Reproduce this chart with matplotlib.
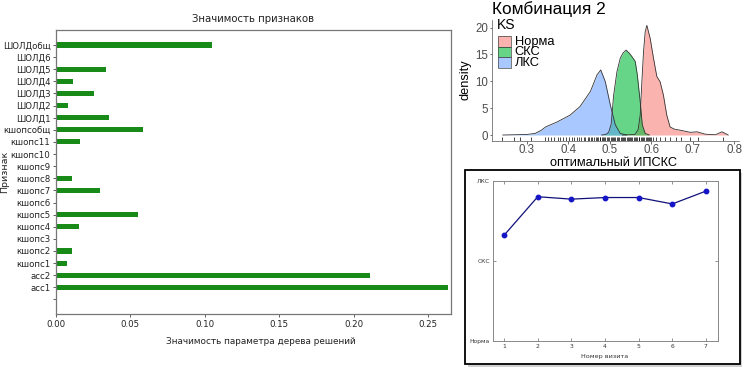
import matplotlib
matplotlib.use('Agg')
import matplotlib.pyplot as plt
from matplotlib.patches import Rectangle
import matplotlib.transforms as mtransforms

# ---------------- data ----------------
features = ['', 'acc1', 'acc2', 'кшопс1', 'кшопс2', 'кшопс3', 'кшопс4', 'кшопс5',
            'кшопс6', 'кшопс7', 'кшопс8', 'кшопс9', 'кшопс10', 'кшопс11', 'кшопсобщ',
            'ШОЛД1', 'ШОЛД2', 'ШОЛД3', 'ШОЛД4', 'ШОЛД5', 'ШОЛД6', 'ШОЛДобщ']
importance = [0.0, 0.2632, 0.2108, 0.0074, 0.0108, 0.0, 0.0157, 0.0551,
              0.0, 0.0296, 0.0110, 0.0, 0.0008, 0.0159, 0.0587,
              0.0358, 0.0081, 0.0253, 0.0114, 0.0336, 0.0008, 0.1046]
imp_ticks = [0.00, 0.05, 0.10, 0.15, 0.20, 0.25]

groups = ['Норма', 'СКС', 'ЛКС']
norma_x = [0.530, 0.560, 0.568, 0.573, 0.577, 0.581, 0.585, 0.589, 0.597, 0.605, 0.613,
           0.621, 0.629, 0.637, 0.645, 0.655, 0.669, 0.694, 0.710, 0.730, 0.754, 0.770, 0.785]
norma_d = [0.0, 0.1, 1.0, 3.7, 9.9, 15.5, 19.2, 20.4, 18.0, 14.3, 10.9,
           9.9, 7.4, 3.7, 1.5, 1.1, 0.9, 0.5, 0.6, 0.15, 0.05, 0.6, 0.0]
sks_x = [0.480, 0.490, 0.497, 0.503, 0.509, 0.517, 0.525, 0.532, 0.539, 0.547, 0.553,
         0.561, 0.566, 0.573, 0.578, 0.585, 0.595]
sks_d = [0.0, 0.1, 0.5, 2.0, 7.4, 11.8, 14.3, 15.3, 15.8, 15.2, 14.6,
         13.7, 11.2, 6.2, 1.9, 0.3, 0.0]
lks_x = [0.242, 0.270, 0.300, 0.320, 0.335, 0.345, 0.372, 0.404, 0.428, 0.453, 0.469,
         0.478, 0.489, 0.501, 0.513, 0.525, 0.540]
lks_d = [0.0, 0.05, 0.1, 0.3, 0.9, 1.5, 2.4, 3.7, 5.3, 8.1, 11.2,
         12.1, 9.9, 5.6, 1.9, 0.3, 0.0]
rug = [0.240, 0.268, 0.284, 0.310, 0.344, 0.352, 0.359, 0.366, 0.374, 0.381, 0.386,
       0.394, 0.401, 0.408, 0.413, 0.421, 0.426, 0.430, 0.437, 0.441, 0.447, 0.450,
       0.455, 0.458, 0.461, 0.466, 0.468, 0.472, 0.475, 0.477, 0.481, 0.483, 0.487,
       0.489, 0.492, 0.496, 0.498, 0.502, 0.504, 0.508, 0.511, 0.513, 0.517, 0.519,
       0.522, 0.526, 0.528, 0.531, 0.535, 0.537, 0.540, 0.543, 0.545, 0.549, 0.551,
       0.554, 0.557, 0.560, 0.563, 0.566, 0.569, 0.571, 0.574, 0.577, 0.580, 0.583,
       0.586, 0.589, 0.591, 0.594, 0.597, 0.600, 0.604, 0.612, 0.620, 0.632, 0.644,
       0.660, 0.672, 0.692, 0.712, 0.772]
dens_xticks = [0.3, 0.4, 0.5, 0.6, 0.7, 0.8]
dens_yticks = [0, 5, 10, 15, 20]

visits = [1, 2, 3, 4, 5, 6, 7]
state = [1.32, 1.80, 1.77, 1.79, 1.79, 1.71, 1.87]
state_labels = ['Норма', 'СКС', 'ЛКС']

# ---------------- layout helpers ----------------
W, H = 742, 368
fig = plt.figure(figsize=(W / 100, H / 100), dpi=100)
fig.patch.set_facecolor('white')


def fx(px):
    return px / W


def fy(py):
    return 1 - py / H


def rect(l, t, r, b):
    return [fx(l), fy(b), fx(r) - fx(l), fy(t) - fy(b)]


# ---------------- left: feature importance ----------------
dv = ['DejaVu Sans']
ax1 = fig.add_axes(rect(56, 30, 451, 314))
pos = list(range(len(features)))
ax1.barh(pos, importance, height=0.42, color='#178a17')
ax1.set_yticks(pos)
ax1.set_yticklabels(features, fontsize=6.2, family=dv, color='#222222')
ax1.set_xticks(imp_ticks)
ax1.set_xticklabels(['%.2f' % t for t in imp_ticks], fontsize=6.2, family=dv, color='#222222')
ax1.set_xlim(0, 0.2655)
ax1.set_ylim(-1.2, 22.24)
for s in ax1.spines.values():
    s.set_color('#777777')
    s.set_linewidth(0.9)
ax1.tick_params(length=2.5, width=0.6, color='#444444', pad=1.5)
fig.text(fx(253), fy(19), 'Значимость признаков', ha='center', va='center',
         fontsize=7.3, family=dv, color='#222222')
fig.text(fx(261), fy(341), 'Значимость параметра дерева решений', ha='center', va='center',
         fontsize=6.4, family=dv, color='#222222')
fig.text(fx(5), fy(172), 'Признак', ha='center', va='center', rotation=90,
         fontsize=6.8, family=dv, color='#222222')

# ---------------- top right: density ----------------
lib = ['Liberation Sans', 'DejaVu Sans']
ax2 = fig.add_axes(rect(492, 20, 739, 140.5))
cols = ['#F8766D', '#00BA38', '#619CFF']
alphas = [0.55, 0.6, 0.55]
for xs, ds, c, a in [(norma_x, norma_d, cols[0], alphas[0]),
                     (sks_x, sks_d, cols[1], alphas[1]),
                     (lks_x, lks_d, cols[2], alphas[2])]:
    ax2.fill_between(xs, 0, ds, color=c, alpha=a, linewidth=0)
    ax2.plot(xs, ds, color='#333333', lw=0.6)
trans = mtransforms.blended_transform_factory(ax2.transData, ax2.transAxes)
ax2.vlines(rug, 0, 0.03, transform=trans, color='black', lw=0.5)
ax2.set_xlim(0.216, 0.811)
ax2.set_ylim(-1.02, 21.4)
ax2.set_xticks(dens_xticks)
ax2.set_xticklabels([str(t) for t in dens_xticks], fontsize=8.3, family=lib, color='#4D4D4D')
ax2.set_yticks(dens_yticks)
ax2.set_yticklabels([str(t) for t in dens_yticks], fontsize=8.3, family=lib, color='#4D4D4D')
ax2.tick_params(length=1.8, width=0.5, color='#333333', pad=0.8)
for k in ['top', 'right']:
    ax2.spines[k].set_visible(False)
for k in ['left', 'bottom']:
    ax2.spines[k].set_color('#555555')
    ax2.spines[k].set_linewidth(0.5)
fig.text(fx(492), fy(9.5), 'Комбинация 2', ha='left', va='center', fontsize=12.4,
         family=lib, color='black')
fig.text(fx(613), fy(162.5), 'оптимальный ИПСКС', ha='center', va='center', fontsize=9.2,
         family=lib, color='black')
fig.text(fx(466), fy(80), 'density', ha='center', va='center', rotation=90, fontsize=9.2,
         family=lib, color='black')
# legend
fig.text(fx(497), fy(25), 'KS', ha='left', va='center', fontsize=10, family=lib, color='black')
key_tops = [36.0, 46.6, 57.2]
for lab, c, a, kt in zip(groups, cols, alphas, key_tops):
    fig.add_artist(Rectangle((fx(497.5), fy(kt + 10.6)), fx(13) - fx(0), (10.6) / H,
                             transform=fig.transFigure, facecolor=c, alpha=a,
                             edgecolor='none'))
    fig.add_artist(Rectangle((fx(497.5), fy(kt + 10.6)), fx(13) - fx(0), (10.6) / H,
                             transform=fig.transFigure, facecolor='none',
                             edgecolor='#444444', lw=0.5))
    fig.text(fx(514.5), fy(kt + 5.6), lab, ha='left', va='center', fontsize=9.3,
             family=lib, color='black')

# ---------------- bottom right: framed line chart ----------------
shadow = Rectangle((fx(468), fy(367)), fx(275) - fx(0), 194 / H, transform=fig.transFigure,
                   facecolor='#9a9a9a', alpha=0.45, edgecolor='none', zorder=-3)
fig.add_artist(shadow)
frame = Rectangle((fx(465), fy(364)), fx(275) - fx(0), 194 / H, transform=fig.transFigure,
                  facecolor='white', edgecolor='black', lw=1.3, zorder=-2)
fig.add_artist(frame)

ax3 = fig.add_axes(rect(492.7, 180.7, 718, 341))
ax3.set_zorder(2)
ax3.plot(visits, state, color='#10107a', lw=0.9, marker='o', ms=3.2,
         mfc='#1515c8', mec='#1515c8')
ax3.set_xlim(0.66, 7.36)
ax3.set_ylim(0, 2)
ax3.set_xticks(visits)
ax3.set_xticklabels([str(v) for v in visits], fontsize=4.3, family=dv, color='#333333')
ax3.set_yticks([0, 1, 2])
ax3.set_yticklabels(state_labels, fontsize=4.3, family=dv, color='#333333')
ax3.tick_params(direction='in', top=True, right=True, length=2, width=0.5,
                color='#666666', pad=2)
for s in ax3.spines.values():
    s.set_color('#888888')
    s.set_linewidth(0.7)
fig.text(fx(605), fy(356.5), 'Номер визита', ha='center', va='center', fontsize=4.6,
         family=dv, color='#333333')

fig.savefig('out.png', dpi=100)
